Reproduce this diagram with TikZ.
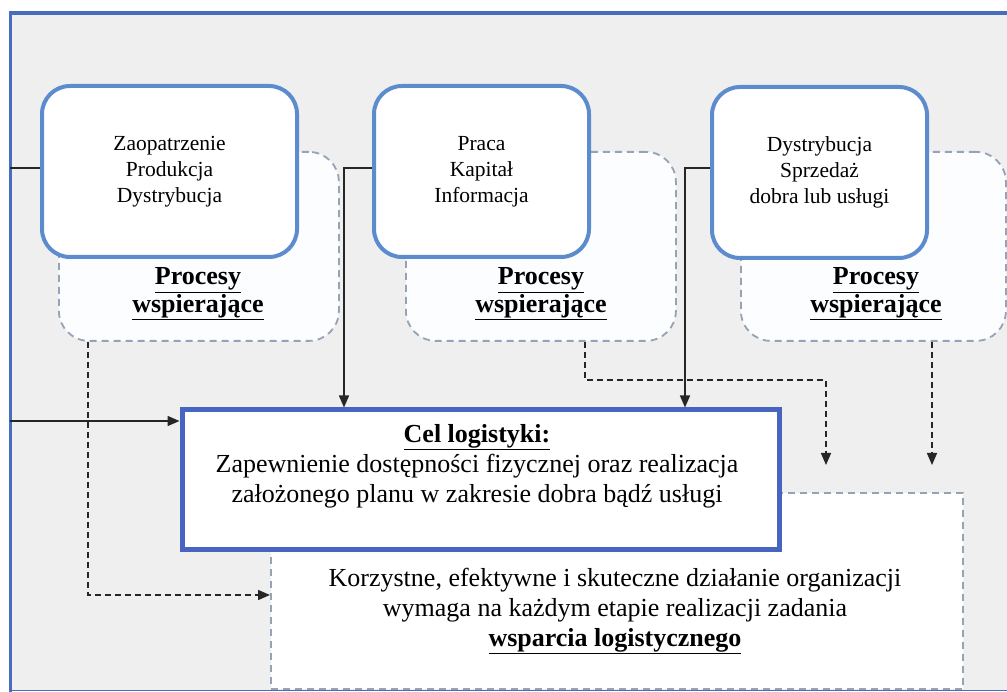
\documentclass[tikz,border=0pt]{standalone}
\usepackage{fontspec}
\setmainfont{Liberation Serif}
\usetikzlibrary{arrows.meta}
\definecolor{framebl}{RGB}{72,108,190}
\definecolor{boxbl}{RGB}{92,140,205}
\definecolor{celbl}{RGB}{70,100,192}
\definecolor{bggray}{RGB}{239,239,239}
\definecolor{dashgr}{RGB}{150,162,182}
\definecolor{dashfill}{RGB}{251,253,255}
\begin{document}
\begin{tikzpicture}[x=1pt,y=-1pt,
  procbox/.style={draw=boxbl, line width=4pt, fill=white, rounded corners=28pt,
    minimum width=#1, minimum height=171pt, anchor=north west, inner sep=0pt,
    align=center, font=\fontsize{21.5}{26}\selectfont},
  suppbox/.style={draw=dashgr, line width=1.8pt, dash pattern=on 7pt off 5pt,
    fill=dashfill, rounded corners=30pt, minimum width=#1, minimum height=189pt,
    anchor=north west, inner sep=0pt},
  supptext/.style={align=center, font=\bfseries\fontsize{26}{28}\selectfont, inner sep=0pt},
  celbox/.style={draw=celbl, line width=5pt, fill=white, minimum width=597pt,
    minimum height=139pt, anchor=north west, inner sep=0pt},
  goalbox/.style={draw=dashgr, line width=1.5pt, dash pattern=on 7pt off 5pt,
    fill=white, minimum width=692pt, minimum height=196pt, anchor=north west, inner sep=0pt},
  bigtext/.style={align=center, font=\fontsize{26}{30}\selectfont, inner sep=0pt},
  conn/.style={draw=black!85, line width=1.5pt},
  arr/.style={conn, -{Triangle[length=12pt,width=10pt]}},
  darr/.style={draw=black!85, line width=1.5pt, dash pattern=on 6pt off 4pt,
    -{Triangle[length=12pt,width=10pt]}}
]
\useasboundingbox (0,0) rectangle (1007,692);
\fill[white] (0,0) rectangle (1007,692);
% frame
\fill[bggray] (10,13) rectangle (1007,691);
\draw[framebl, line width=1.5pt] (10,690.5) -- (1007,690.5);
\draw[framebl, line width=3.5pt] (10.5,11.5) -- (10.5,692);
\draw[framebl, line width=3.5pt] (9,13) -- (1007,13);

% goal (bottom) box and Cel box
\node[goalbox] (goal) at (270,492) {};
\node[celbox] (cel) at (179.5,407.5) {};
\node[bigtext] (celtext) at (477,466)
  {\textbf{\underline{Cel logistyki:}}\\
   Zapewnienie dostępności fizycznej oraz realizacja\\
   założonego planu w zakresie dobra bądź usługi};
\node[bigtext] (goaltext) at (615,611)
  {Korzystne, efektywne i skuteczne działanie organizacji\\
   wymaga na każdym etapie realizacji zadania\\
   \textbf{\underline{wsparcia logistycznego}}};

% supporting (dashed) boxes
\node[suppbox=280pt] (supp1) at (58,151) {};
\node[suppbox=270pt] (supp2) at (405,151) {};
\node[suppbox=265pt] (supp3) at (740,151) {};
\node[supptext] (st1) at (198,294) {\underline{Procesy}\\\underline{wspierające}};
\node[supptext] (st2) at (541,294) {\underline{Procesy}\\\underline{wspierające}};
\node[supptext] (st3) at (876,294) {\underline{Procesy}\\\underline{wspierające}};

% process boxes
\node[procbox=255pt] (box1) at (40,84) {Zaopatrzenie\\Produkcja\\Dystrybucja};
\node[procbox=215pt] (box2) at (372,84) {Praca\\Kapitał\\Informacja};
\node[procbox=215pt] (box3) at (710,85) {Dystrybucja\\Sprzedaż\\dobra lub usługi};

% coordinates
\coordinate (fl1) at (10,168);
\coordinate (fl2) at (10,421);
\coordinate (j2) at (344,168);
\coordinate (j3) at (685,168);
\coordinate (d1) at (88,595);
\coordinate (d2a) at (585,380);
\coordinate (d2b) at (826,380);
\coordinate (t2) at (826,465);
\coordinate (t3) at (932,465);

% connectors
\draw[conn] (fl1) -- (fl1 -| box1.west);
\draw[arr] (box2.west |- j2) -- (j2) -- (j2 |- cel.north);
\draw[arr] (box3.west |- j3) -- (j3) -- (j3 |- cel.north);
\draw[arr] (fl2) -- (fl2 -| cel.west);
\draw[darr] (d1 |- supp1.south) -- (d1) -- (d1 -| goal.west);
\draw[darr] (d2a |- supp2.south) -- (d2a) -- (d2b) -- (t2);
\draw[darr] (t3 |- supp3.south) -- (t3);
\end{tikzpicture}
\end{document}
